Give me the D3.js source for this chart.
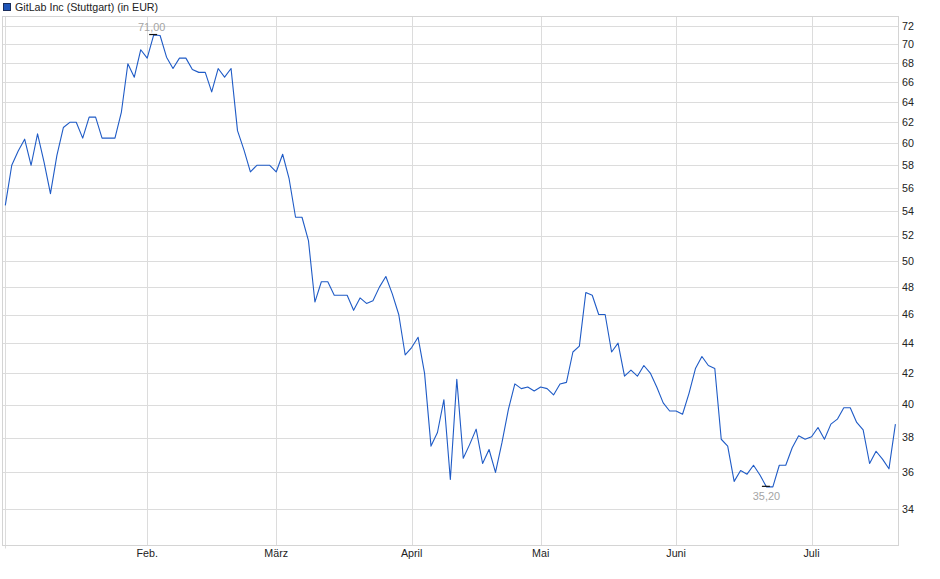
<!DOCTYPE html>
<html><head><meta charset="utf-8">
<script src="https://cdn.jsdelivr.net/npm/d3@7"></script>
<style>body{margin:0;background:#fff}svg{display:block}text{font-family:"Liberation Sans",Arial,sans-serif}</style>
</head><body><svg id="c" width="940" height="579"></svg>
<script>
const title = "GitLab Inc (Stuttgart) (in EUR)";
const monthLabels = ["", "Feb.", "März", "April", "Mai", "Juni", "Juli"];
const monthStartIdx = [0, 22, 42, 63, 83, 104, 125];
const yTicks = [34, 36, 38, 40, 42, 44, 46, 48, 50, 52, 54, 56, 58, 60, 62, 64, 66, 68, 70, 72];
const prices = [
  54.5, 58.0, 59.3, 60.4, 58.0, 60.9, 58.3, 55.5, 58.9, 61.5,
  62.0, 62.0, 60.5, 62.5, 62.5, 60.5, 60.5, 60.5, 63.0, 67.9,
  66.5, 69.4, 68.5, 71.0, 70.95, 68.6, 67.4, 68.5, 68.5, 67.3,
  67.0, 67.0, 65.0, 67.4, 66.5, 67.4, 61.2, 59.4, 57.4, 58.0,
  58.0, 58.0, 57.4, 59.0, 56.8, 53.5, 53.5, 51.6, 46.9, 48.4,
  48.4, 47.4, 47.4, 47.4, 46.3, 47.2, 46.8, 47.0, 48.0, 48.8,
  47.5, 46.0, 43.2, 43.7, 44.4, 42.0, 37.5, 38.3, 40.3, 35.6,
  41.6, 36.8, 37.6, 38.5, 36.5, 37.3, 36.0, 37.7, 39.7, 41.3,
  41.0, 41.1, 40.85, 41.1, 41.0, 40.6, 41.3, 41.4, 43.4, 43.8,
  47.6, 47.4, 46.0, 46.0, 43.4, 44.0, 41.8, 42.2, 41.8, 42.5,
  42.0, 41.1, 40.1, 39.6, 39.6, 39.4, 40.7, 42.3, 43.1, 42.5,
  42.3, 37.9, 37.5, 35.5, 36.1, 35.9, 36.4, 35.85, 35.2, 35.2,
  36.4, 36.4, 37.4, 38.1, 37.9, 38.05, 38.6, 37.9, 38.8, 39.1,
  39.8, 39.8, 38.9, 38.45, 36.5, 37.2, 36.75, 36.2, 38.8
];

const svg = d3.select("#c");
const plot = {left: 2.5, right: 898.5, top: 16.5, bottom: 545.5};
const x = d3.scaleLinear().domain([0, prices.length - 1]).range([5.3, 895.4]);
const y = d3.scaleLog().domain([32.16, 73.13]).range([545, 16]);
const px = v => Math.round(v) + 0.5;
const gridColor = "#dcdcdc";

// horizontal grid
svg.append("g").selectAll("line").data(yTicks).join("line")
  .attr("x1", plot.left).attr("x2", plot.right)
  .attr("y1", d => px(y(d))).attr("y2", d => px(y(d)))
  .attr("stroke", gridColor).attr("stroke-width", 1);

// vertical grid
svg.append("g").selectAll("line").data(monthStartIdx).join("line")
  .attr("x1", d => px(x(d))).attr("x2", d => px(x(d)))
  .attr("y1", plot.top).attr("y2", (d, i) => i === 0 ? plot.bottom + 3 : plot.bottom)
  .attr("stroke", gridColor).attr("stroke-width", 1);

// frame
svg.append("rect")
  .attr("x", plot.left).attr("y", plot.top)
  .attr("width", plot.right - plot.left).attr("height", plot.bottom - plot.top)
  .attr("fill", "none").attr("stroke", "#d4d4d4").attr("stroke-width", 1);

// y labels
svg.append("g").selectAll("text").data(yTicks).join("text")
  .attr("x", 902).attr("y", d => y(d)).attr("dy", "0.35em")
  .attr("font-size", "10.7px").attr("fill", "#222")
  .text(d => d);

// x labels
svg.append("g").selectAll("text").data(monthStartIdx).join("text")
  .attr("x", d => x(d)).attr("y", 557)
  .attr("text-anchor", "middle")
  .attr("font-size", "10.7px").attr("fill", "#222")
  .text((d, i) => monthLabels[i]);

// price line
const line = d3.line().x((d, i) => x(i)).y(d => y(d));
svg.append("path").datum(prices)
  .attr("d", line).attr("fill", "none")
  .attr("stroke", "#1f5bc6").attr("stroke-width", 1.1)
  .attr("stroke-linejoin", "round");

// max / min markers
const fmt = v => d3.format(".2f")(v).replace(".", ",");
const maxI = d3.maxIndex(prices), minI = d3.minIndex(prices);
[[maxI, -4.5, -2], [minI, 13.5, 0]].forEach(([i, off, dx]) => {
  const cx = x(i), cy = y(prices[i]);
  svg.append("line").attr("x1", cx - 4.5).attr("x2", cx + 3.5)
    .attr("y1", cy - 0.5).attr("y2", cy - 0.5)
    .attr("stroke", "#111").attr("stroke-width", 1.2);
  svg.append("text").attr("x", cx + dx).attr("y", cy + off)
    .attr("text-anchor", "middle").attr("font-size", "10.9px")
    .attr("fill", "#a4a4a4").text(fmt(prices[i]));
});

// legend
svg.append("rect").attr("x", 3.5).attr("y", 3.5).attr("width", 7).attr("height", 7)
  .attr("fill", "#1f55b8").attr("stroke", "#1a2d5a").attr("stroke-width", 1);
svg.append("text").attr("x", 15).attr("y", 11)
  .attr("font-size", "10.7px").attr("fill", "#222").text(title);
</script>
</body></html>
